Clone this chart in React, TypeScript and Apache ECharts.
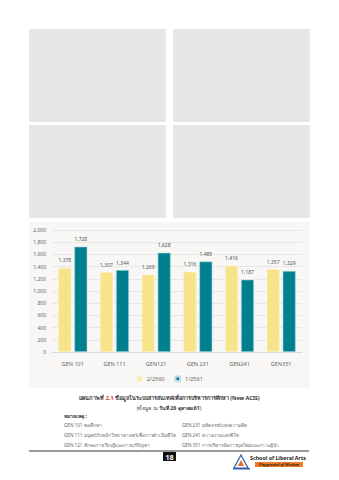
import React, { useEffect, useRef } from "react";
import * as echarts from "echarts";

const categories = ["GEN 101", "GEN 111", "GEN121", "GEN 231", "GEN241", "GEN351"];
const series2560 = [1378, 1307, 1269, 1316, 1416, 1357];
const series2561 = [1728, 1344, 1628, 1485, 1187, 1329];
const seriesNames = ["2/2560", "1/2561"];
const yTicks = { min: 0, max: 2000, interval: 200 };

const notesLeft = [
  "GEN 101 พลศึกษา",
  "GEN 111 มนุษย์กับหลักวิทยาศาสตร์เพื่อการดำเนินชีวิต",
  "GEN 121 ทักษะการเรียนรู้และการแก้ปัญหา",
];
const notesRight = [
  "GEN 231 มหัศจรรย์แห่งความคิด",
  "GEN 241 ความงามแห่งชีวิต",
  "GEN 351 การบริหารจัดการยุคใหม่และภาวะผู้นำ",
];

const FONT = "'Noto Sans', 'DejaVu Sans', sans-serif";
const YELLOW = "#F7E48A";
const TEAL = "#00808F";

export default function App() {
  const ref = useRef<HTMLDivElement>(null);
  useEffect(() => {
    document.body.style.margin = "0";
    const chart = echarts.init(ref.current!, null, { renderer: "svg" });
    const box = (x: number, y: number) => ({
      type: "group",
      children: [
        { type: "rect", shape: { x: x, y: y, width: 137, height: 93 }, style: { fill: "#e6e6e6" } },
        { type: "rect", shape: { x: x + 136, y: y, width: 1.5, height: 93 }, style: { fill: "#eeeeee" } },
      ],
    });
    const noteText = (x: number, y: number, t: string) => ({
      type: "text",
      x,
      y,
      style: { text: t, font: `4.6px ${FONT}`, fill: "#666", textVerticalAlign: "middle" },
    });
    const graphics: any[] = [
      box(29, 29),
      box(173, 29),
      box(29, 125),
      box(173, 125),
      { type: "rect", z: -10, shape: { x: 29, y: 222, width: 281, height: 166 }, style: { fill: "#f8f7f5" } },
      {
        type: "text",
        x: 169.5,
        y: 398,
        style: {
          text: "{b|แผนภาพที่ }{r|2.1}{b| ข้อมูลในระบบสารสนเทศเพื่อการบริหารการศึกษา (New ACIS)}",
          align: "center",
          verticalAlign: "middle",
          rich: {
            b: { font: `bold 5.4px ${FONT}`, fill: "#333" },
            r: { font: `bold 5.4px ${FONT}`, fill: "#d0303a" },
          },
        },
      },
      {
        type: "text",
        x: 169,
        y: 407.5,
        style: {
          text: "{n|(ข้อมูล ณ }{b|วันที่ 26 ตุลาคม 61}{n|)}",
          align: "center",
          verticalAlign: "middle",
          rich: {
            n: { font: `5.2px ${FONT}`, fill: "#444" },
            b: { font: `bold 5.2px ${FONT}`, fill: "#333" },
          },
        },
      },
      {
        type: "text",
        x: 64,
        y: 416,
        style: { text: "หมายเหตุ :", font: `bold 5.2px ${FONT}`, fill: "#333", textVerticalAlign: "middle" },
      },
      ...notesLeft.map((t, i) => noteText(64, 424.5 + i * 10, t)),
      ...notesRight.map((t, i) => noteText(182, 424.5 + i * 10, t)),
      { type: "line", shape: { x1: 29, y1: 451, x2: 309, y2: 451 }, style: { stroke: "#777", lineWidth: 1.5 } },
      { type: "rect", shape: { x: 163, y: 452, width: 13, height: 9 }, style: { fill: "#111" } },
      {
        type: "text",
        x: 169.5,
        y: 457,
        style: { text: "18", font: `bold 7px ${FONT}`, fill: "#fff", align: "center", verticalAlign: "middle" },
      },
      {
        type: "polygon",
        shape: { points: [[241, 455], [234, 468], [248, 468]] },
        style: { fill: "none", stroke: "#2e5fa8", lineWidth: 1.2 },
      },
      {
        type: "polygon",
        shape: { points: [[241, 460], [238, 466], [244, 466]] },
        style: { fill: "#e86a1e" },
      },
      { type: "rect", shape: { x: 233, y: 468, width: 17, height: 1.5 }, style: { fill: "#2e5fa8" } },
      {
        type: "text",
        x: 250,
        y: 457.5,
        style: { text: "School of Liberal Arts", font: `bold 5.3px ${FONT}`, fill: "#222", textVerticalAlign: "middle" },
      },
      { type: "rect", shape: { x: 255, y: 462, width: 48, height: 5 }, style: { fill: "#f07a2a" } },
      {
        type: "text",
        x: 279,
        y: 464.6,
        style: {
          text: "Playground of Wisdom",
          font: `italic bold 3.8px ${FONT}`,
          fill: "#3a2a10",
          align: "center",
          verticalAlign: "middle",
        },
      },
    ];

    chart.setOption({
      animation: false,
      backgroundColor: "#ffffff",
      graphic: graphics,
      grid: { left: 52, right: 37, top: 230, bottom: 128, containLabel: false },
      legend: {
        data: seriesNames,
        top: 375.5,
        padding: 0,
        left: "center",
        itemWidth: 4.5,
        itemHeight: 4.5,
        itemGap: 10,
        textStyle: { fontSize: 5.5, color: "#666", fontFamily: FONT },
        icon: "rect",
      },
      xAxis: {
        type: "category",
        data: categories,
        axisLine: { lineStyle: { color: "#d9d9d9" } },
        axisTick: { show: false },
        axisLabel: { fontSize: 5.5, color: "#666", fontFamily: FONT, margin: 9 },
      },
      yAxis: {
        type: "value",
        min: yTicks.min,
        max: yTicks.max,
        interval: yTicks.interval,
        axisLine: { show: false },
        axisTick: { show: false },
        splitLine: { lineStyle: { color: "#e2e2e2", width: 0.8 } },
        axisLabel: {
          fontSize: 5,
          color: "#666",
          fontFamily: FONT,
          margin: 6,
          formatter: (v: number) => v.toLocaleString("en-US"),
        },
      },
      series: [
        {
          name: seriesNames[0],
          type: "bar",
          data: series2560,
          barWidth: 13,
          barGap: "23%",
          itemStyle: { color: YELLOW, borderColor: "#fbf3cf", borderWidth: 0.6 },
          label: {
            show: true,
            position: "top",
            distance: 5,
            fontSize: 5,
            color: "#555",
            fontFamily: FONT,
            formatter: (p: any) => Number(p.value).toLocaleString("en-US"),
          },
        },
        {
          name: seriesNames[1],
          type: "bar",
          data: series2561,
          barWidth: 13,
          itemStyle: { color: TEAL, borderColor: "#b9dde0", borderWidth: 0.6 },
          label: {
            show: true,
            position: "top",
            distance: 5,
            fontSize: 5,
            color: "#555",
            fontFamily: FONT,
            formatter: (p: any) => Number(p.value).toLocaleString("en-US"),
          },
        },
      ],
    });
    return () => chart.dispose();
  }, []);
  return <div ref={ref} style={{ position: "absolute", left: 0, top: 0, width: 339, height: 480 }} />;
}
